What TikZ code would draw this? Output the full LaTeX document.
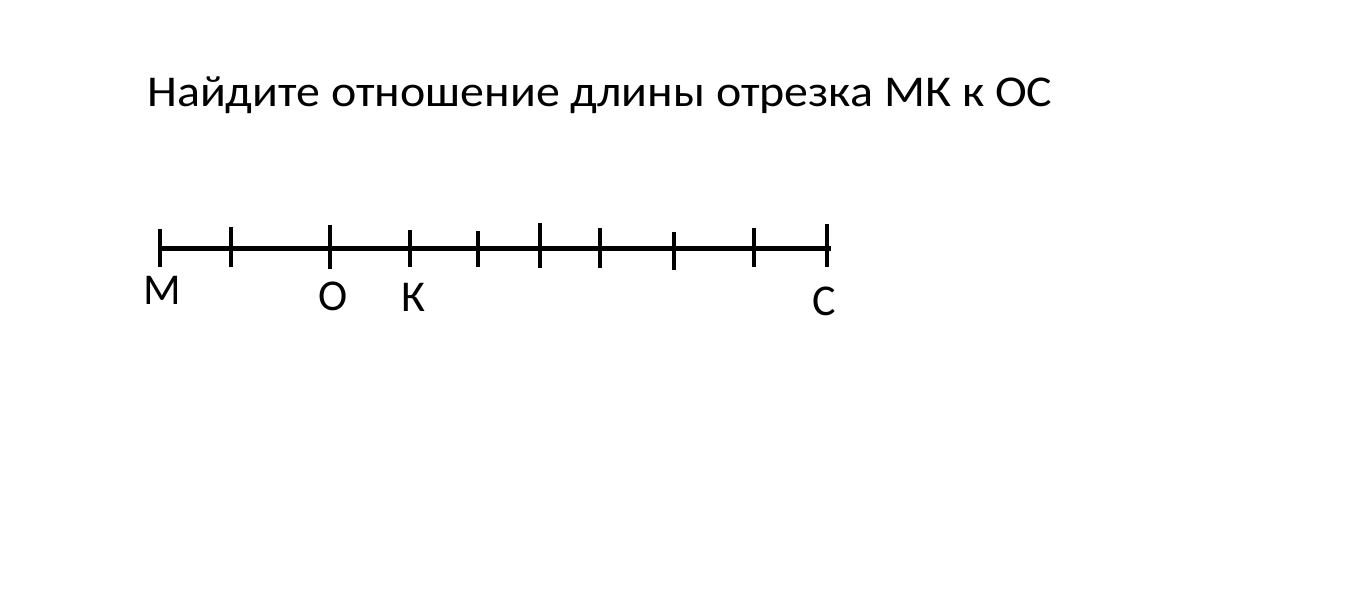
\documentclass[tikz,border=0pt]{standalone}
\usepackage{fontspec}
\setmainfont{Carlito}
\newfontfamily\widefont[FakeStretch=1.089]{Carlito}
\begin{document}
\begin{tikzpicture}[x=1pt,y=-1pt,
  axis/.style={line width=5pt},
  tick/.style={line width=4pt},
  lbl/.style={anchor=base,inner sep=0pt,font=\fontsize{44}{50}\selectfont},
  ttl/.style={anchor=base west,inner sep=0pt,font=\widefont\fontsize{44}{50}\selectfont}]
\useasboundingbox[fill=white] (0,0) rectangle (1360,593);
\node[ttl] (title) at (147,107) {Найдите отношение длины отрезка МК к ОС};
\coordinate (A) at (158,249);
\coordinate (B) at (831,249);
\draw[axis] (A) -- (B);
\foreach \x/\a/\b [count=\i] in {160/229/267,231/227/267,330/225/269,410/230/267,478/231/267,540/223/268,600/228/268,674/232/270,754/228/267,827/224/267}{
  \coordinate (t\i a) at (\x,\a);
  \coordinate (t\i b) at (\x,\b);
  \draw[tick] (t\i a) -- (t\i b);
}
\node[lbl] (M) at (162,305) {М};
\node[lbl] (O) at (333,311) {О};
\node[lbl] (K) at (413,312) {К};
\node[lbl] (C) at (824,316) {С};
\end{tikzpicture}
\end{document}
